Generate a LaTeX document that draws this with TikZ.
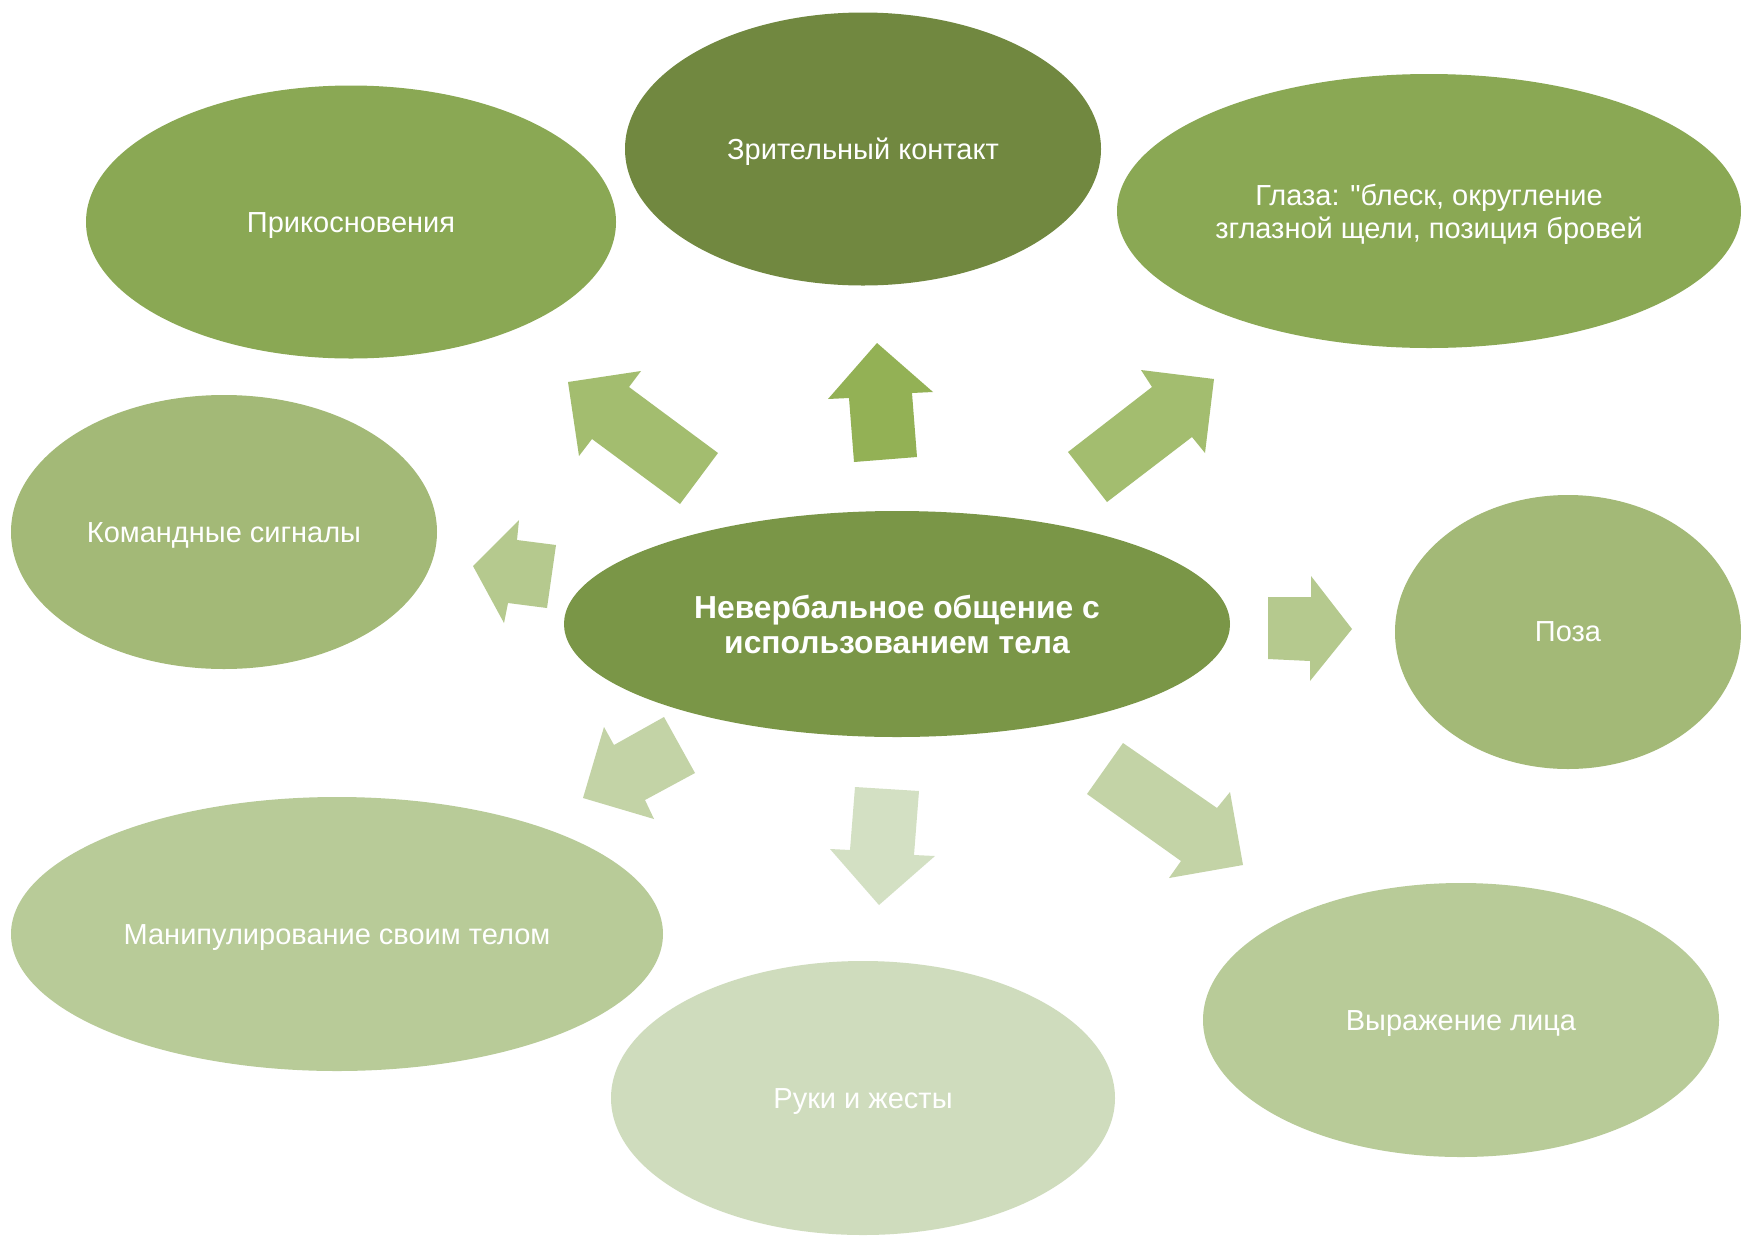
\documentclass[tikz,border=0pt]{standalone}
\usepackage{fontspec}
\setmainfont{Liberation Sans}[Ligatures=TeXOff]
\usetikzlibrary{shapes.geometric}
\definecolor{cEye}{HTML}{718840}
\definecolor{cCenter}{HTML}{7A9647}
\definecolor{cMid}{HTML}{8AA854}
\definecolor{cLight}{HTML}{A3B977}
\definecolor{cLighter}{HTML}{B8CB98}
\definecolor{cLightest}{HTML}{CFDCBD}
\definecolor{aUp}{HTML}{93B155}
\definecolor{aDiag}{HTML}{A3BD6F}
\definecolor{aSide}{HTML}{B5C98E}
\definecolor{aLow}{HTML}{C3D3A6}
\definecolor{aDown}{HTML}{D3E0C3}
\begin{document}
\begin{tikzpicture}[x=1pt,y=-1pt,
  oval/.style={ellipse, inner sep=0pt},
  ovaltext/.style={inner sep=0pt, text=white, align=center,
    font=\fontsize{29}{32.5}\selectfont}]
\clip (0,0) rectangle (1741,1235);
\fill[white] (0,0) rectangle (1741,1235);
% satellite ellipses
\node[oval, fill=cMid, minimum width=530pt, minimum height=273pt] (touch) at (351,222) {};
\node[oval, fill=cEye, minimum width=476pt, minimum height=273pt] (eyec) at (863,149) {};
\node[oval, fill=cMid, minimum width=624pt, minimum height=274pt] (eyes) at (1429,211) {};
\node[oval, fill=cLight, minimum width=426pt, minimum height=274pt] (cmd) at (224,532) {};
\node[oval, fill=cLight, minimum width=346pt, minimum height=274pt] (pose) at (1568,632) {};
\node[oval, fill=cLighter, minimum width=652pt, minimum height=274pt] (manip) at (337,934) {};
\node[oval, fill=cLightest, minimum width=504pt, minimum height=274pt] (hands) at (863,1098) {};
\node[oval, fill=cLighter, minimum width=516pt, minimum height=274pt] (face) at (1461,1020) {};
\node[ovaltext] (touchT) at ([yshift=-3.5pt]touch.center) {Прикосновения};
\node[ovaltext] (eyecT) at ([yshift=-3pt]eyec.center) {Зрительный контакт};
\node[ovaltext] (eyesT) at ([yshift=-3.5pt]eyes.center) {Глаза: "блеск, округление\\зглазной щели, позиция бровей};
\node[ovaltext] (cmdT) at ([yshift=-3.5pt]cmd.center) {Командные сигналы};
\node[ovaltext] (poseT) at ([yshift=0pt]pose.center) {Поза};
\node[ovaltext] (manipT) at ([yshift=-3.5pt]manip.center) {Манипулирование своим телом};
\node[ovaltext] (handsT) at ([yshift=-3.5pt]hands.center) {Руки и жесты};
\node[ovaltext] (faceT) at ([yshift=-3.5pt]face.center) {Выражение лица};
% centre
\node[oval, fill=cCenter, minimum width=666pt, minimum height=226pt,
  text=white, align=center,
  font=\bfseries\fontsize{31.8}{35}\selectfont] (center) at (897,624) {Невербальное общение с\\использованием тела};
% block arrows
\fill[aDiag] (568,382) -- (641,371) -- (629,387) -- (718,453) -- (680,504) -- (592,439) -- (579,456) -- cycle;
\fill[aUp] (877,343) -- (933,392) -- (912,393) -- (917,457) -- (854,462) -- (849,398) -- (828,399) -- cycle;
\fill[aDiag] (1214,379) -- (1205,453) -- (1192,437) -- (1107,502) -- (1068,452) -- (1152,387) -- (1141,370) -- cycle;
\fill[aSide] (473,566) -- (519,520) -- (517,540) -- (556,545) -- (547,608) -- (508,603) -- (504,623) -- cycle;
\fill[aSide] (1352,629) -- (1310,681) -- (1310,661) -- (1268,659) -- (1268,597) -- (1311,597) -- (1311,576) -- cycle;
\fill[aLow] (583,798) -- (604,727) -- (614,745) -- (664,717) -- (695,773) -- (645,800) -- (654,819) -- cycle;
\fill[aDown] (879,905) -- (830,849) -- (850,850) -- (855,787) -- (919,791) -- (914,855) -- (935,856) -- cycle;
\fill[aLow] (1243,865) -- (1169,878) -- (1181,861) -- (1087,794) -- (1123,743) -- (1217,808) -- (1230,792) -- cycle;
\end{tikzpicture}
\end{document}
